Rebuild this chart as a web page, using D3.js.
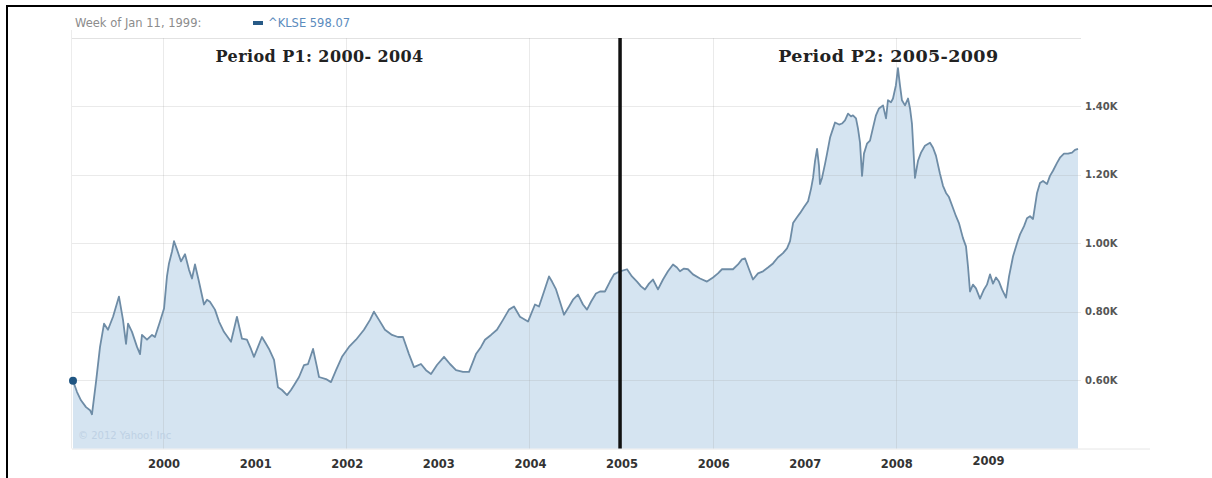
<!DOCTYPE html>
<meta charset="utf-8">
<style>
  body { margin: 0; background: #fff; font-family: "DejaVu Sans", sans-serif; }
  svg { display: block; }
  .ylab { font-size: 10px; font-weight: bold; fill: #555; }
  .xlab { font-size: 11.5px; font-weight: bold; fill: #333; }
  .period { font-family: "DejaVu Serif", serif; font-weight: bold; fill: #222; letter-spacing: 0.4px; }
</style>
<body>
<svg id="chart" width="1212" height="478"></svg>
<script src="https://d3js.org/d3.v7.min.js"></script>
<script>
  // weekly close of ^KLSE (decimal year, index value)
  const weeks = [
    1999.027, 1999.071, 1999.114, 1999.169, 1999.213, 1999.234, 1999.278, 1999.322, 1999.366, 1999.409,
    1999.464, 1999.529, 1999.573, 1999.606, 1999.628, 1999.671, 1999.726, 1999.759, 1999.780, 1999.835,
    1999.890, 1999.922, 1999.977, 2000.021, 2000.053, 2000.075, 2000.108, 2000.130, 2000.162, 2000.206,
    2000.250, 2000.293, 2000.326, 2000.359, 2000.402, 2000.457, 2000.490, 2000.522, 2000.577, 2000.621,
    2000.675, 2000.752, 2000.817, 2000.872, 2000.926, 2000.970, 2001.003, 2001.047, 2001.090, 2001.134,
    2001.167, 2001.222, 2001.265, 2001.309, 2001.364, 2001.407, 2001.440, 2001.495, 2001.549, 2001.593,
    2001.648, 2001.691, 2001.713, 2001.789, 2001.844, 2001.899, 2001.964, 2002.040, 2002.117, 2002.204,
    2002.270, 2002.313, 2002.368, 2002.433, 2002.510, 2002.575, 2002.630, 2002.695, 2002.750, 2002.826,
    2002.881, 2002.936, 2003.001, 2003.078, 2003.143, 2003.209, 2003.285, 2003.351, 2003.394, 2003.427,
    2003.482, 2003.525, 2003.591, 2003.656, 2003.722, 2003.787, 2003.842, 2003.907, 2003.995, 2004.071,
    2004.115, 2004.170, 2004.224, 2004.257, 2004.301, 2004.344, 2004.388, 2004.443, 2004.486, 2004.541,
    2004.595, 2004.639, 2004.683, 2004.737, 2004.781, 2004.835, 2004.890, 2004.934, 2004.999, 2005.076,
    2005.130, 2005.185, 2005.229, 2005.272, 2005.316, 2005.359, 2005.414, 2005.469, 2005.523, 2005.578,
    2005.621, 2005.654, 2005.698, 2005.741, 2005.796, 2005.873, 2005.949, 2006.015, 2006.069, 2006.113,
    2006.178, 2006.233, 2006.288, 2006.331, 2006.364, 2006.408, 2006.451, 2006.506, 2006.561, 2006.615,
    2006.670, 2006.725, 2006.779, 2006.823, 2006.856, 2006.889, 2006.932, 2006.965, 2007.009, 2007.053,
    2007.085, 2007.107, 2007.129, 2007.151, 2007.172, 2007.183, 2007.205, 2007.238, 2007.260, 2007.293,
    2007.325, 2007.347, 2007.391, 2007.423, 2007.456, 2007.489, 2007.522, 2007.543, 2007.576, 2007.598,
    2007.620, 2007.642, 2007.663, 2007.696, 2007.729, 2007.762, 2007.794, 2007.827, 2007.871, 2007.904,
    2007.925, 2007.958, 2007.980, 2008.012, 2008.034, 2008.056, 2008.078, 2008.111, 2008.144, 2008.166,
    2008.187, 2008.220, 2008.253, 2008.286, 2008.329, 2008.384, 2008.417, 2008.449, 2008.493, 2008.526,
    2008.559, 2008.591, 2008.635, 2008.668, 2008.700, 2008.744, 2008.777, 2008.799, 2008.821, 2008.853,
    2008.886, 2008.930, 2008.974, 2009.006, 2009.039, 2009.072, 2009.105, 2009.137, 2009.170, 2009.214,
    2009.247, 2009.291, 2009.334, 2009.367, 2009.411, 2009.443, 2009.476, 2009.509, 2009.553, 2009.585,
    2009.618, 2009.662, 2009.694, 2009.727, 2009.771, 2009.803, 2009.847, 2009.891, 2009.935, 2009.967,
    2010.000
  ];
  const klse = [
    598.07, 565, 541, 521, 512, 500, 594, 697, 765, 747,
    785, 844, 776, 706, 765, 741, 697, 676, 732, 718,
    732, 726, 771, 809, 903, 941, 976, 1006, 982, 947,
    968, 923, 897, 938, 888, 821, 835, 829, 806, 771,
    741, 712, 785, 721, 718, 691, 668, 697, 726, 706,
    691, 659, 579, 571, 556, 571, 585, 609, 644, 647,
    691, 638, 609, 603, 594, 629, 668, 697, 718, 747,
    776, 800, 776, 747, 732, 726, 726, 676, 638, 647,
    629, 618, 644, 668, 647, 629, 624, 624, 653, 676,
    697, 718, 732, 747, 776, 806, 815, 785, 771, 821,
    815, 859, 903, 888, 865, 829, 791, 815, 835, 850,
    821, 806, 829, 853, 859, 859, 888, 909, 918, 924,
    903, 888, 874, 865, 882, 894, 865, 894, 918, 938,
    929, 918, 926, 924, 909, 897, 888, 900, 912, 924,
    924, 924, 938, 953, 956, 924, 894, 912, 918, 929,
    941, 959, 971, 985, 1006, 1059, 1076, 1088, 1106, 1123,
    1159, 1191, 1241, 1276, 1226, 1173, 1191, 1232, 1262, 1309,
    1335, 1353, 1347, 1350, 1359, 1379, 1371, 1374, 1365, 1335,
    1294, 1197, 1262, 1291, 1300, 1338, 1374, 1394, 1403, 1365,
    1418, 1412, 1423, 1462, 1512, 1462, 1418, 1403, 1423, 1394,
    1350, 1191, 1241, 1265, 1285, 1294, 1279, 1256, 1203, 1168,
    1147, 1135, 1103, 1079, 1059, 1015, 991, 932, 859, 879,
    868, 838, 865, 879, 909, 882, 900, 888, 865, 841,
    903, 962, 1000, 1026, 1050, 1073, 1079, 1071, 1147, 1176,
    1182, 1173, 1197, 1212, 1235, 1250, 1262, 1262, 1265, 1273,
    1276
  ];
  const yearTicks = [2000, 2001, 2002, 2003, 2004, 2005, 2006, 2007, 2008, 2009];
  const gridYears = [2000, 2002, 2004, 2006, 2008];
  const valueTicks = [600, 800, 1000, 1200, 1400];
  const periodLabels = [
    { text: "Period P1: 2000- 2004", at: 2001.72 },
    { text: "Period P2: 2005-2009", at: 2007.93 }
  ];
  const splitYear = 2005;

  const data = weeks.map((w, i) => ({ t: w, v: klse[i] }));

  const svg = d3.select("#chart");
  const plotL = 72, plotR = 1081, plotT = 38, plotB = 448.5;

  const x = d3.scaleLinear().domain([1999.027, 2010.0]).range([73, 1078]);
  const y = d3.scaleLinear().domain([400, 1600]).range([plotB, plotT]);

  // outer frame (only top and left edges show in the picture)
  svg.append("path")
    .attr("d", "M7,478V6H1212")
    .attr("fill", "none").attr("stroke", "#000").attr("stroke-width", 2);

  // plot borders and the base line
  svg.append("line").attr("x1", plotL).attr("x2", plotR).attr("y1", plotT + 0.5).attr("y2", plotT + 0.5)
    .attr("stroke", "#e2e2e2");
  svg.append("line").attr("x1", plotL - 0.5).attr("x2", plotL - 0.5).attr("y1", 30).attr("y2", plotB)
    .attr("stroke", "#ececec");
  svg.append("line").attr("x1", plotL).attr("x2", 1150).attr("y1", plotB + 0.5).attr("y2", plotB + 0.5)
    .attr("stroke", "#e6e6e6");

  const area = d3.area().x(d => x(d.t)).y0(plotB).y1(d => y(d.v));
  const line = d3.line().x(d => x(d.t)).y(d => y(d.v));

  svg.append("path").datum(data)
    .attr("d", area)
    .attr("fill", "#d5e4f1");

  // grid drawn over the fill, faint
  svg.append("g").selectAll("line").data(valueTicks).join("line")
    .attr("x1", plotL).attr("x2", plotR)
    .attr("y1", d => Math.round(y(d)) + 0.5).attr("y2", d => Math.round(y(d)) + 0.5)
    .attr("stroke", "#a0a0a0").attr("stroke-opacity", 0.22);
  svg.append("g").selectAll("line").data(gridYears).join("line")
    .attr("x1", d => Math.round(x(d)) + 1.5).attr("x2", d => Math.round(x(d)) + 1.5)
    .attr("y1", plotT).attr("y2", plotB)
    .attr("stroke", "#a0a0a0").attr("stroke-opacity", 0.22);

  svg.append("path").datum(data)
    .attr("d", line)
    .attr("fill", "none")
    .attr("stroke", "#6e8ca6")
    .attr("stroke-width", 1.8)
    .attr("stroke-linejoin", "round");

  // first point marker
  svg.append("circle")
    .attr("cx", x(data[0].t)).attr("cy", y(data[0].v)).attr("r", 4)
    .attr("fill", "#1f5582");

  // y labels on the right
  svg.append("g").selectAll("text").data(valueTicks).join("text")
    .attr("class", "ylab")
    .attr("x", 1085).attr("y", d => y(d)).attr("dy", "0.35em")
    .text(d => (d / 1000).toFixed(2) + "K");

  // x labels below the plot
  svg.append("g").selectAll("text").data(yearTicks).join("text")
    .attr("class", "xlab")
    .attr("x", d => x(d) + 2).attr("y", d => d === 2009 ? 465 : 468)
    .attr("text-anchor", "middle")
    .text(d => d);

  // period split line
  svg.append("line")
    .attr("x1", x(splitYear)).attr("x2", x(splitYear))
    .attr("y1", plotT).attr("y2", plotB)
    .attr("stroke", "#111").attr("stroke-width", 3.5);

  // the second caption is set a touch larger in the picture
  svg.append("g").selectAll("text").data(periodLabels).join("text")
    .attr("class", "period")
    .attr("font-size", (d, i) => i === 0 ? 16 : 17.5)
    .attr("x", d => x(d.at)).attr("y", 62)
    .attr("text-anchor", "middle")
    .text(d => d.text);

  // header above the plot
  svg.append("text").attr("x", 75).attr("y", 27).attr("font-size", 11.5).attr("fill", "#8c8c8c")
    .text("Week of Jan 11, 1999:");
  svg.append("rect").attr("x", 253).attr("y", 21).attr("width", 10).attr("height", 4).attr("fill", "#275a86");
  svg.append("text").attr("x", 268).attr("y", 27).attr("font-size", 11.5).attr("fill", "#5b8bbd")
    .text("^KLSE " + klse[0].toFixed(2));

  svg.append("text").attr("x", 78).attr("y", 439).attr("font-size", 10).attr("fill", "#bed1e4")
    .text("© 2012 Yahoo! Inc");
</script>
</body>
